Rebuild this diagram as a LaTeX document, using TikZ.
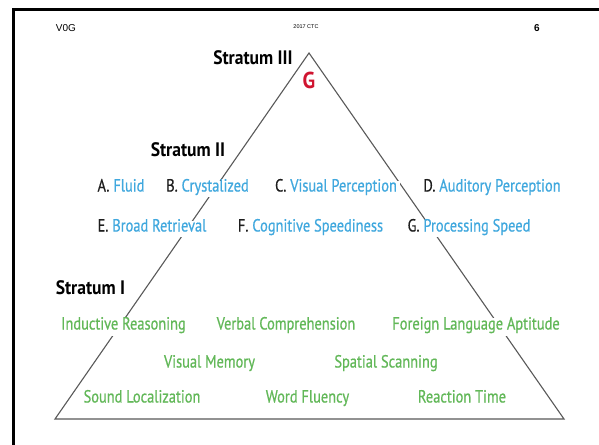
\documentclass[tikz,border=0pt]{standalone}
\usepackage{fontspec}
\setmainfont{Liberation Sans}
\newfontfamily\condfont[FakeStretch=0.82,FakeBold=0.6]{PT Sans}
\newfontfamily\condbold[FakeStretch=0.9]{PT Sans Bold}
\definecolor{skyb}{RGB}{64,168,222}
\definecolor{leaf}{RGB}{98,184,88}
\definecolor{gred}{RGB}{208,20,48}
\definecolor{labk}{RGB}{30,30,30}
\begin{document}
\begin{tikzpicture}[x=1pt,y=-1pt,
  stratum/.style={font=\condbold\fontsize{19.5}{19.5}\selectfont, text=black, inner sep=1pt},
  factor/.style={font=\condfont\fontsize{17.6}{17.6}\selectfont, text=skyb, fill=white, inner xsep=3pt, inner ysep=3pt, text height=0.75em, text depth=0.25em},
  ability/.style={font=\condfont\fontsize{17.6}{17.6}\selectfont, text=leaf, fill=white, inner xsep=3pt, inner ysep=4pt, text height=0.75em, text depth=0.25em},
  edge/.style={draw=black!65, line width=1.1pt}]
\useasboundingbox (0,0) rectangle (599,444);
\fill[white] (0,0) rectangle (599,444);
\draw[line width=3pt] (13.5,446) -- (13.5,10) -- (601,10);
% header
\node[font=\fontsize{10}{10}\selectfont, inner sep=0pt] (hdrl) at (66,28) {V0G};
\node[font=\fontsize{5.5}{5.5}\selectfont, inner sep=0pt] (hdrc) at (306,27) {2017 CTC};
\node[font=\bfseries\fontsize{10}{10}\selectfont, inner sep=0pt] (hdrr) at (537,28) {6};
% triangle
\coordinate (apex) at (309,53);
\coordinate (bl) at (55,419);
\coordinate (br) at (564,419);
\draw[edge, line join=miter] (apex) -- (bl) -- (br) -- cycle;
% labels
\node[stratum] (s3) at (253,58) {Stratum III};
\node[font=\condbold\fontsize{23}{23}\selectfont, text=gred, inner sep=0pt] (g) at (309,80) {G};
\node[stratum] (s2) at (188,150) {Stratum II};
\node[stratum] (s1) at (90.5,288) {Stratum I};
% stratum II
\node[factor] (fa) at (121,189) {{\color{labk}A.} Fluid};
\node[factor] (fb) at (207.5,189) {{\color{labk}B.} Crystalized};
\node[factor] (fc) at (336,189) {{\color{labk}C.} Visual Perception};
\node[factor] (fd) at (492,189) {{\color{labk}D.} Auditory Perception};
\node[factor] (fe) at (152,229) {{\color{labk}E.} Broad Retrieval};
\node[factor] (ff) at (310.5,229) {{\color{labk}F.} Cognitive Speediness};
\node[factor] (fg) at (469,229) {{\color{labk}G.} Processing Speed};
% stratum I
\node[ability] (ir) at (123.5,327) {Inductive Reasoning};
\node[ability] (vc) at (286,327) {Verbal Comprehension};
\node[ability] (fl) at (476,327) {Foreign Language Aptitude};
\node[ability] (vm) at (209.5,365) {Visual Memory};
\node[ability] (ss) at (386,365) {Spatial Scanning};
\node[ability] (sl) at (142,400) {Sound Localization};
\node[ability] (wf) at (307.5,400) {Word Fluency};
\node[ability] (rt) at (462,400) {Reaction Time};
\end{tikzpicture}
\end{document}
